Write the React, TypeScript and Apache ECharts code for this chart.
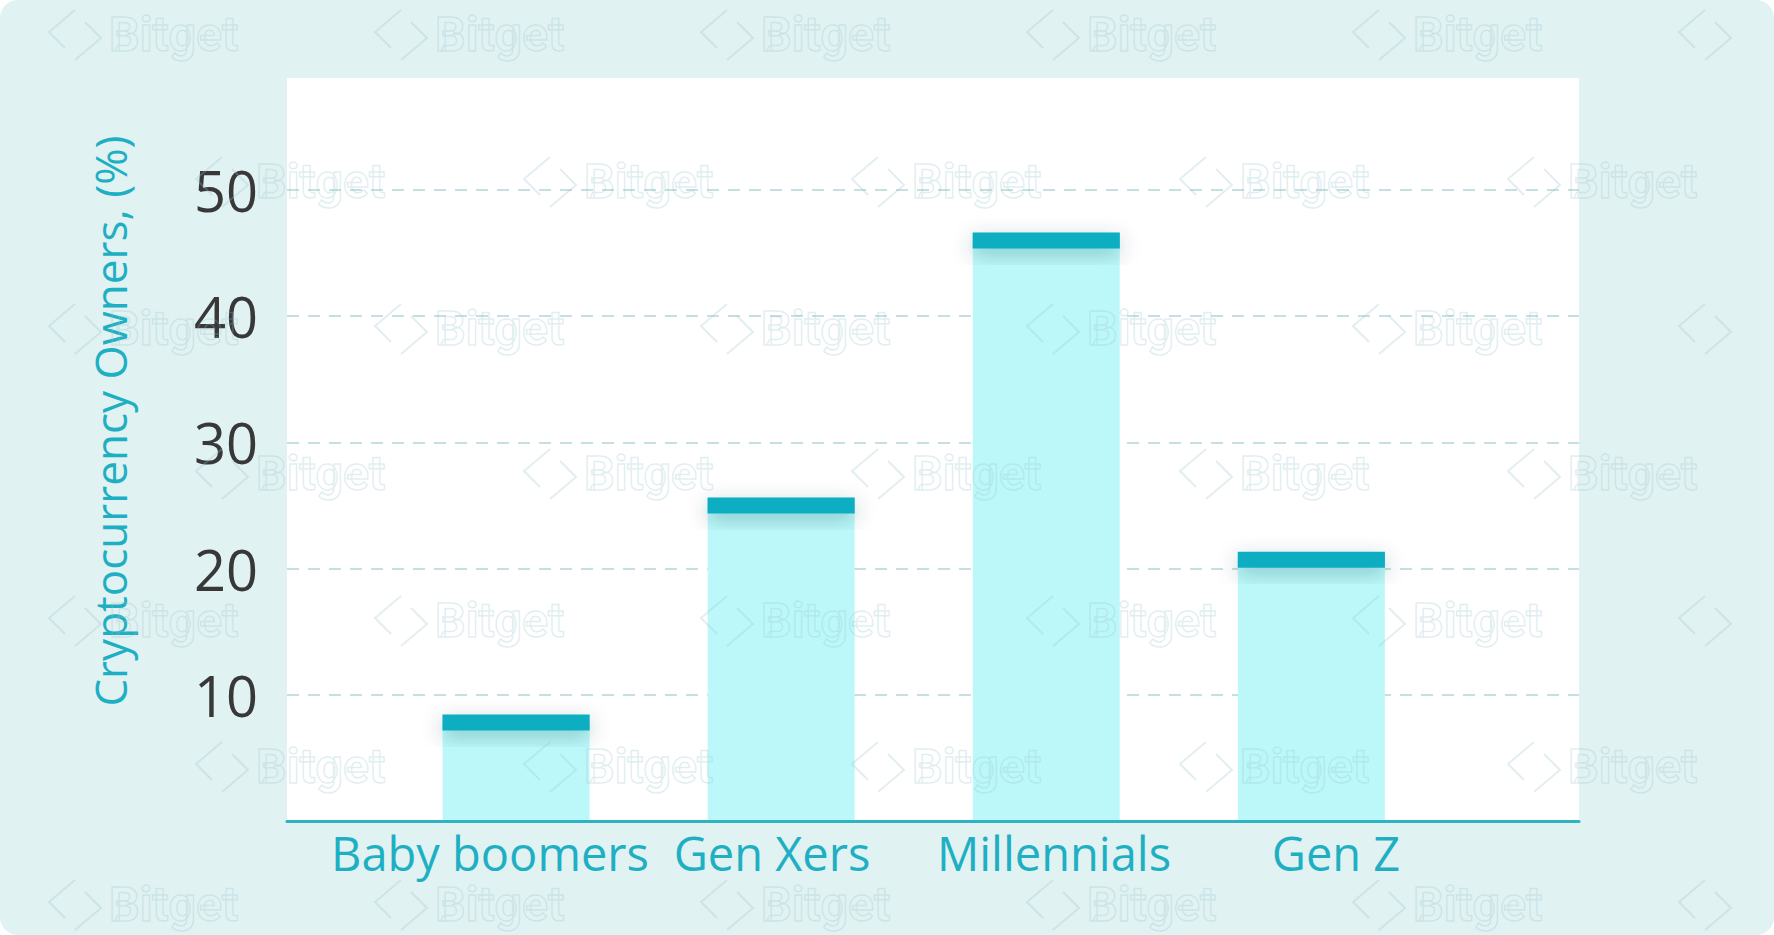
import React, { useEffect, useRef } from "react";
import * as echarts from "echarts";

const categories = ["Baby boomers", "Gen Xers", "Millennials", "Gen Z"];
const ownersPct = [7.8, 25, 46, 20.7];
const yMin = 0;
const yMax = 50;
const yInterval = 10;
const yAxisTitle = "Cryptocurrency Owners, (%)";
const watermarkText = "Bitget";

export default function App() {
  const ref = useRef<HTMLDivElement>(null);

  useEffect(() => {
    const chart = echarts.init(ref.current!, null, { renderer: "svg" });
    const W = 1774;
    const H = 935;
    const gridTop = 190;
    const gridBottom = H - 821;
    const barW = 147;

    const elements: any[] = [];
    // white plot panel
    elements.push({
      type: "rect",
      z: -10,
      silent: true,
      shape: { x: 287, y: 78, width: 1292, height: 744 },
      style: { fill: "#ffffff" },
    });
    // axis title
    elements.push({
      type: "text",
      x: 110,
      y: 421,
      rotation: Math.PI / 2,
      z: 5,
      style: {
        text: yAxisTitle,
        font: '44px "Open Sans"',
        fill: "#1fafc3",
        align: "center",
        verticalAlign: "middle",
      },
    });
    // watermark
    const wmStroke = "rgba(150,195,202,0.28)";
    const addMark = (lx: number, cy: number) => {
      elements.push({
        type: "polyline",
        z: 20,
        silent: true,
        shape: { points: [[lx + 30, cy - 24], [lx + 4, cy - 2], [lx + 20, cy + 14]] },
        style: { stroke: wmStroke, lineWidth: 2, fill: "none" },
      });
      elements.push({
        type: "polyline",
        z: 20,
        silent: true,
        shape: { points: [[lx + 30, cy + 26], [lx + 56, cy + 4], [lx + 40, cy - 12]] },
        style: { stroke: wmStroke, lineWidth: 2, fill: "none" },
      });
      if (lx + 64 >= 0 && lx + 64 + 140 <= W) {
        elements.push({
          type: "text",
          z: 20,
          silent: true,
          x: lx + 64,
          y: cy,
          style: {
            text: watermarkText,
            font: "bold 48px Roboto",
            fill: "rgba(255,255,255,0)",
            stroke: wmStroke,
            lineWidth: 1.5,
            align: "left",
            verticalAlign: "middle",
          },
        });
      }
    };
    [34, 328, 620, 904].forEach((cy) => {
      for (let k = 0; k < 6; k++) addMark(45 + 326 * k, cy);
    });
    [181, 473, 766].forEach((cy) => {
      for (let k = 0; k < 6; k++) addMark(-136 + 328 * k, cy);
    });

    chart.setOption({
      animation: false,
      backgroundColor: "transparent",
      grid: [
        { left: 287, width: 1292, top: gridTop, bottom: gridBottom },
        { left: 383.5, width: 1060.4, top: gridTop, bottom: gridBottom },
        { left: 349, width: 1128, top: gridTop, bottom: gridBottom },
      ],
      xAxis: [
        {
          type: "category",
          gridIndex: 0,
          data: categories,
          axisLine: { show: true, lineStyle: { color: "#2fb2c2", width: 3 } },
          axisTick: { show: false },
          axisLabel: { show: false },
          z: 10,
        },
        {
          type: "category",
          gridIndex: 1,
          data: categories,
          show: false,
        },
        {
          type: "category",
          gridIndex: 2,
          data: categories,
          axisLine: { show: false },
          axisTick: { show: false },
          axisLabel: {
            show: true,
            interval: 0,
            margin: 8,
            fontFamily: "Open Sans",
            fontSize: 47,
            color: "#1fafc3",
          },
        },
      ],
      yAxis: [
        {
          type: "value",
          gridIndex: 0,
          min: yMin,
          max: yMax,
          interval: yInterval,
          axisLine: { show: false },
          axisTick: { show: false },
          axisLabel: {
            showMinLabel: false,
            margin: 29,
            fontFamily: "Open Sans",
            fontSize: 56,
            color: "#383838",
          },
          splitLine: {
            show: true,
            lineStyle: { color: "#b3d5d9", width: 1.5, type: [12, 9] },
          },
        },
        { type: "value", gridIndex: 1, min: yMin, max: yMax, interval: yInterval, show: false },
        { type: "value", gridIndex: 2, min: yMin, max: yMax, interval: yInterval, show: false },
      ],
      series: [
        {
          type: "bar",
          xAxisIndex: 1,
          yAxisIndex: 1,
          data: ownersPct,
          barWidth: barW,
          itemStyle: { color: "#bcf8fa" },
          z: 2,
        },
        {
          type: "pictorialBar",
          xAxisIndex: 1,
          yAxisIndex: 1,
          data: ownersPct,
          symbol: "rect",
          symbolSize: [barW, 16],
          symbolPosition: "end",
          symbolOffset: [0, "-50%"],
          itemStyle: {
            color: "#0aaec2",
            shadowBlur: 20,
            shadowColor: "rgba(0,70,80,0.3)",
            shadowOffsetY: 6,
          },
          z: 3,
        },
      ],
      graphic: { elements },
    });

    return () => chart.dispose();
  }, []);

  return (
    <div
      ref={ref}
      style={{
        position: "absolute",
        left: 0,
        top: 0,
        width: 1774,
        height: 935,
        background: "#e1f2f3",
        borderRadius: 18,
        overflow: "hidden",
      }}
    />
  );
}
